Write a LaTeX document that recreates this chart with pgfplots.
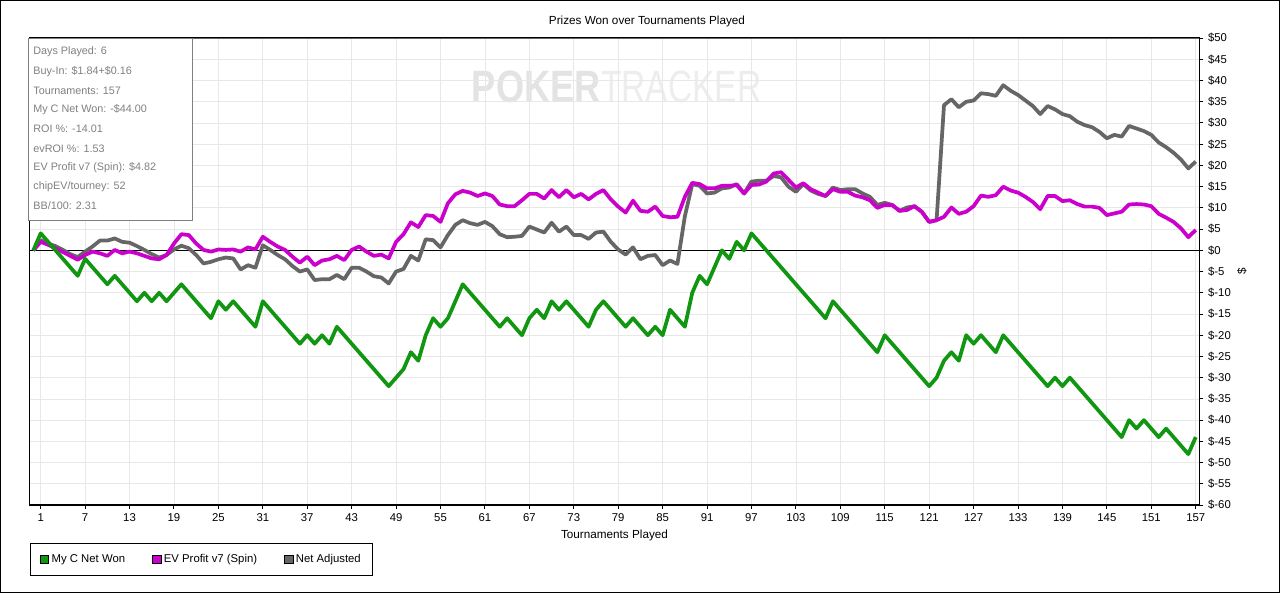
\documentclass[border=0pt]{standalone}
\usepackage{pgfplots}
\pgfplotsset{compat=1.18}
\usepackage{pgfplotstable}
\usepackage{fontspec}
\setmainfont{Liberation Sans}
\definecolor{cgreen}{RGB}{16,150,16}
\definecolor{cmag}{RGB}{204,0,204}
\definecolor{cgrey}{RGB}{102,102,102}
\definecolor{cgrid}{RGB}{232,232,232}
\definecolor{cinfo}{RGB}{128,128,128}

\pgfplotstableread{
t won ev adj
0 0 0 0
1 4 2.0 2.4
2 2 1.3 1.6
3 0 0.5 1.0
4 -2 -0.4 0.1
5 -4 -1.3 -0.9
6 -6 -2.2 -1.6
7 -2 -1.1 -0.3
8 -4 -0.3 0.9
9 -6 -0.7 2.3
10 -8 -1.3 2.3
11 -6 0.1 2.8
12 -8 -0.7 2.0
13 -10 -0.3 1.8
14 -12 -0.7 1.0
15 -10 -1.3 0.1
16 -12 -1.9 -0.9
17 -10 -2.1 -1.7
18 -12 -1.1 -1.1
19 -10 1.6 0.2
20 -8 3.8 1.1
21 -10 3.6 0.5
22 -12 1.6 -1.1
23 -14 0.1 -3.1
24 -16 -0.3 -2.7
25 -12 0.2 -2.1
26 -14 0.1 -1.7
27 -12 0.2 -1.9
28 -14 -0.3 -4.5
29 -16 0.7 -3.5
30 -18 0.2 -4.1
31 -12 3.2 1.2
32 -14 2.0 0.1
33 -16 0.9 -1.1
34 -18 0.1 -2.1
35 -20 -1.5 -3.7
36 -22 -2.9 -5.0
37 -20 -1.5 -4.5
38 -22 -3.5 -7.0
39 -20 -2.4 -6.8
40 -22 -2.1 -6.8
41 -18 -1.3 -5.8
42 -20 -2.3 -6.8
43 -22 0.1 -4.1
44 -24 0.9 -4.1
45 -26 -0.3 -5.0
46 -28 -1.3 -6.1
47 -30 -1.0 -6.4
48 -32 -1.9 -7.8
49 -30 2.0 -5.0
50 -28 3.8 -4.4
51 -24 6.6 -1.3
52 -26 5.5 -2.4
53 -20 8.3 2.6
54 -16 8.1 2.4
55 -18 6.7 0.7
56 -16 11.1 3.6
57 -12 13.2 6.0
58 -8 14.0 7.1
59 -10 13.6 6.4
60 -12 12.8 6.0
61 -14 13.4 6.7
62 -16 12.8 5.7
63 -18 10.8 3.8
64 -16 10.4 3.1
65 -18 10.4 3.2
66 -20 11.8 3.4
67 -16 13.3 5.6
68 -14 13.3 4.9
69 -16 12.2 4.2
70 -12 14.2 6.5
71 -14 12.5 4.4
72 -12 14.2 5.6
73 -14 12.5 3.6
74 -16 13.3 3.6
75 -18 12.0 2.7
76 -14 13.3 4.2
77 -12 14.2 4.4
78 -14 12.0 2.0
79 -16 10.3 0.2
80 -18 8.9 -1.0
81 -16 11.7 0.7
82 -18 9.3 -2.1
83 -20 9.1 -1.3
84 -18 10.3 -1.1
85 -20 8.1 -3.5
86 -14 7.8 -2.4
87 -16 7.9 -3.2
88 -18 12.6 8.0
89 -10 15.9 15.6
90 -6 15.6 15.2
91 -8 14.6 13.4
92 -4 14.6 13.6
93 0 15.2 14.6
94 -2 15.2 14.8
95 2 15.4 15.6
96 0 13.4 13.4
97 4 15.4 16.2
98 2 15.5 16.4
99 0 16.2 16.4
100 -2 18.1 17.5
101 -4 18.4 17.2
102 -6 16.6 15.0
103 -8 14.8 13.8
104 -10 15.8 15.6
105 -12 14.4 14.1
106 -14 13.6 13.3
107 -16 12.8 12.8
108 -12 14.4 14.8
109 -14 13.8 14.2
110 -16 13.8 14.4
111 -18 12.9 14.4
112 -20 12.5 13.4
113 -22 11.8 12.6
114 -24 10.0 10.7
115 -20 10.7 11.2
116 -22 10.7 10.7
117 -24 9.3 9.3
118 -26 9.5 10.1
119 -28 10.4 10.4
120 -30 9.1 9.1
121 -32 6.7 6.7
122 -30 7.1 7.1
123 -26 7.9 34.2
124 -24 10.1 35.6
125 -26 8.6 33.7
126 -20 9.1 35.0
127 -22 10.4 35.3
128 -20 12.9 37.0
129 -22 12.6 36.8
130 -24 13.0 36.4
131 -20 15.0 38.9
132 -22 14.1 37.6
133 -24 13.6 36.6
134 -26 12.6 35.3
135 -28 11.4 34.0
136 -30 9.7 32.1
137 -32 12.8 34.0
138 -30 12.8 33.2
139 -32 11.6 32.1
140 -30 11.8 31.6
141 -32 10.9 30.3
142 -34 10.3 29.5
143 -36 10.3 29.0
144 -38 10.0 27.9
145 -40 8.3 26.4
146 -42 8.7 27.2
147 -44 9.1 26.8
148 -40 10.8 29.3
149 -42 10.9 28.7
150 -40 10.8 28.1
151 -42 10.4 27.2
152 -44 8.6 25.4
153 -42 7.7 24.3
154 -44 6.7 23.0
155 -46 5.2 21.4
156 -48 3.1 19.3
157 -44 4.8 20.9
}\data

\begin{document}
\begin{tikzpicture}
\begin{scope}[x=0.75pt,y=-0.75pt]
\useasboundingbox (0,0) rectangle (1280,593);
\node[text=black!11, font=\fontsize{34}{34}\selectfont\bfseries, xscale=0.8, anchor=east, inner sep=0pt] at (601,87) {POKER};
\node[text=black!7, font=\fontsize{34}{34}\selectfont, xscale=0.74, anchor=west, inner sep=0pt] at (601,87) {TRACKER};
\node[font=\fontsize{8.8}{10}\selectfont, inner sep=0pt] at (647,21) {Prizes Won over Tournaments Played};
\end{scope}

\begin{axis}[
  at={(22.125pt,-28.5pt)}, anchor=north west,
  scale only axis, width=877.5pt, height=350.25pt,
  xmin=-0.5, xmax=157.5, ymin=-60, ymax=50,
  xtick={1,7,...,157},
  ytick={-60,-55,...,50},
  yticklabels={\$-60,\$-55,\$-50,\$-45,\$-40,\$-35,\$-30,\$-25,\$-20,\$-15,\$-10,\$-5,\$0,\$5,\$10,\$15,\$20,\$25,\$30,\$35,\$40,\$45,\$50},
  xtick pos=bottom, ytick pos=right, yticklabel pos=right,
  tick align=outside, major tick length=3pt,
  grid=major, major grid style={draw=cgrid, line width=0.6pt},
  axis line style={black, line width=1.1pt},
  tick style={black, line width=0.75pt},
  ticklabel style={font=\fontsize{8.5}{10}\selectfont},
  /pgf/number format/assume math mode=true,
  xlabel={Tournaments Played},
  xlabel style={at={(axis description cs:0.5,-0.0642)}, anchor=center, font=\fontsize{8.8}{10}\selectfont, inner sep=0pt},
  ylabel={\$},
  ylabel style={at={(axis description cs:1.0363,0.5)}, anchor=center, font=\fontsize{8.8}{10}\selectfont, inner sep=0pt},
  legend columns=3,
  legend cell align=left,
  legend style={at={(axis description cs:0,-0.0814)}, anchor=north west,
    draw=black, line width=0.9pt, inner xsep=7pt, inner ysep=6pt,
    font=\fontsize{8.5}{10}\selectfont,
    /tikz/every even column/.append style={column sep=18pt}},
]
\addlegendimage{legend image code/.code={\draw[fill=cgreen,draw=black,line width=0.5pt] (0pt,-3.3pt) rectangle (6.6pt,3.3pt);}}
\addlegendentry{My C Net Won}
\addlegendimage{legend image code/.code={\draw[fill=cmag,draw=black,line width=0.5pt] (0pt,-3.3pt) rectangle (6.6pt,3.3pt);}}
\addlegendentry{EV Profit v7 (Spin)}
\addlegendimage{legend image code/.code={\draw[fill=cgrey,draw=black,line width=0.5pt] (0pt,-3.3pt) rectangle (6.6pt,3.3pt);}}
\addlegendentry{Net Adjusted}

\addplot[black, line width=0.9pt, forget plot] coordinates {(-0.5,0) (157.5,0)};
\addplot[cgrey, line width=2.8pt, line join=round, forget plot] table[x=t,y=adj]{\data};
\addplot[cmag, line width=2.8pt, line join=round, forget plot] table[x=t,y=ev]{\data};
\addplot[cgreen, line width=2.8pt, line join=round, forget plot] table[x=t,y=won]{\data};
\draw[cgrey, line width=1.1pt] (rel axis cs:0,1) -- (rel axis cs:1,1);
\end{axis}

\begin{scope}[x=0.75pt,y=-0.75pt]
\draw[cinfo, line width=0.75pt, fill=white] (28,38) rectangle (192,220);
\begin{scope}[every node/.style={anchor=west, text=cinfo, font=\fontsize{8.1}{9}\selectfont, inner sep=0pt}]
\node at (33,52.0) {Days Played: 6};
\node at (33,71.25) {Buy-In: \$1.84+\$0.16};
\node at (33,90.5) {Tournaments: 157};
\node at (33,109.75) {My C Net Won: -\$44.00};
\node at (33,129.0) {ROI \%: -14.01};
\node at (33,148.25) {evROI \%: 1.53};
\node at (33,167.5) {EV Profit v7 (Spin): \$4.82};
\node at (33,186.75) {chipEV/tourney: 52};
\node at (33,206.0) {BB/100: 2.31};
\end{scope}
\draw[black, line width=0.9pt] (0.5,0.5) rectangle (1279.5,592.5);
\end{scope}
\end{tikzpicture}
\end{document}
